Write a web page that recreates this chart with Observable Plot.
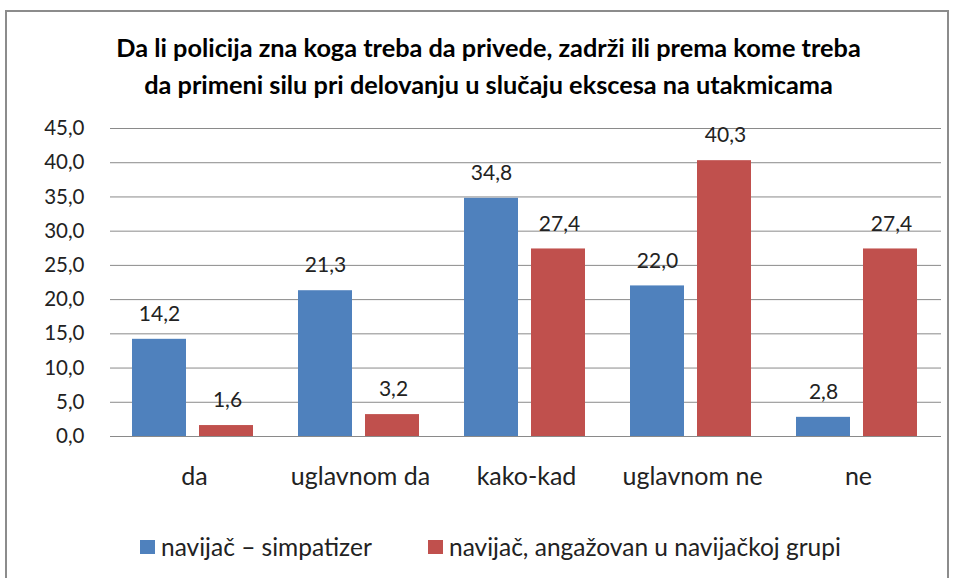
<!DOCTYPE html>
<html>
<head>
<meta charset="utf-8">
<script src="https://cdn.jsdelivr.net/npm/d3@7"></script>
<script src="https://cdn.jsdelivr.net/npm/@observablehq/plot@0.6"></script>
<style>
  html, body { margin: 0; padding: 0; background: #fff; }
  body { width: 955px; height: 578px; position: relative; overflow: hidden; font-family: Lato, "Open Sans", sans-serif; }
  #frame { position: absolute; left: 5px; top: 10px; width: 944px; height: 575px; border: 2px solid #8c8c8c; box-sizing: border-box; }
  #title { position: absolute; left: 11px; top: 29px; width: 955px; text-align: center; font-weight: bold; font-size: 25.3px; line-height: 37px; color: #000; }
  #chart { position: absolute; left: 0; top: 110px; }
  .item { position: absolute; top: 532px; display: flex; align-items: center; font-size: 24.5px; color: #222; white-space: nowrap; }
  .sw { width: 15px; height: 14px; display: inline-block; margin-right: 6px; }
</style>
</head>
<body>
<div id="frame"></div>
<div id="title">Da li policija zna koga treba da privede, zadrži ili prema kome treba<br>da primeni silu pri delovanju u slučaju ekscesa na utakmicama</div>
<div id="chart"></div>
<div id="legend"></div>
<script>
const categories = ["da", "uglavnom da", "kako-kad", "uglavnom ne", "ne"];
const seriesNames = ["navijač – simpatizer", "navijač, angažovan u navijačkoj grupi"];
const simpatizer = [14.2, 21.3, 34.8, 22.0, 2.8];
const angazovan = [1.6, 3.2, 27.4, 40.3, 27.4];
const yTicks = [0, 5, 10, 15, 20, 25, 30, 35, 40, 45];
const colors = ["#4F81BD", "#C0504D"];

const blue = categories.map((c, i) => ({cat: c, v: simpatizer[i]}));
const red = categories.map((c, i) => ({cat: c, v: angazovan[i]}));
const fmt = d => d.toFixed(1).replace(".", ",");

const chart = Plot.plot({
  width: 955,
  height: 400,
  marginLeft: 110,
  marginRight: 14,
  marginTop: 18,
  marginBottom: 74,
  style: {fontFamily: "Lato, 'Open Sans', sans-serif", fontSize: "20.5px", color: "#222", background: "transparent"},
  x: {domain: categories, padding: 0, label: null, axis: null},
  y: {domain: [0, 45], label: null, ticks: yTicks, tickFormat: fmt, tickSize: 0, tickPadding: 26},
  marks: [
    Plot.gridY(yTicks, {stroke: "#8a8a8a", strokeOpacity: 1, strokeWidth: 1}),
    Plot.axisX({tickSize: 0, tickPadding: 31, fontSize: 25, label: null}),
    Plot.barY(blue, {x: "cat", y: "v", fill: colors[0], insetLeft: 21, insetRight: 91}),
    Plot.barY(red, {x: "cat", y: "v", fill: colors[1], insetLeft: 88, insetRight: 24}),
    Plot.text(blue, {x: "cat", y: "v", text: d => fmt(d.v), dx: -35, dy: -25, fill: "#222", fontSize: 21}),
    Plot.text(red, {x: "cat", y: "v", text: d => fmt(d.v), dx: 33, dy: -25, fill: "#222", fontSize: 21})
  ]
});
document.getElementById("chart").appendChild(chart);

const legend = document.getElementById("legend");
const legendLeft = [140, 428];
seriesNames.forEach((name, i) => {
  const item = document.createElement("div");
  item.className = "item";
  item.style.left = legendLeft[i] + "px";
  const sw = document.createElement("span");
  sw.className = "sw";
  sw.style.background = colors[i];
  const t = document.createElement("span");
  t.textContent = name;
  item.appendChild(sw);
  item.appendChild(t);
  legend.appendChild(item);
});
</script>
</body>
</html>
